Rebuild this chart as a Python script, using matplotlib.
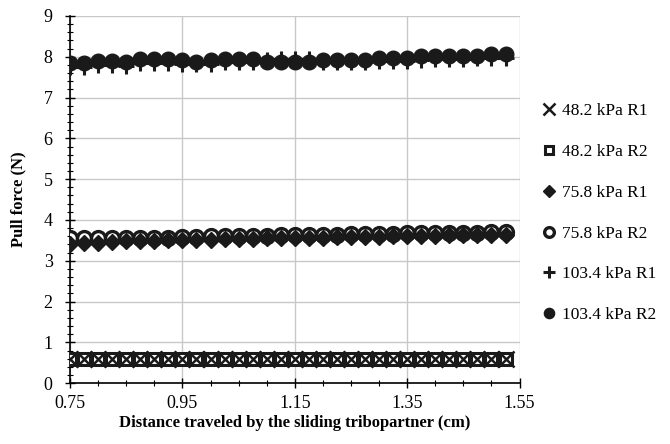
import matplotlib.pyplot as plt
from matplotlib.ticker import MultipleLocator
import numpy as np

# distance travelled (cm), 32 samples
dist = [0.75, 0.775, 0.80, 0.825, 0.85, 0.875, 0.90, 0.925, 0.95, 0.975,
        1.00, 1.025, 1.05, 1.075, 1.10, 1.125, 1.15, 1.175, 1.20, 1.225,
        1.25, 1.275, 1.30, 1.325, 1.35, 1.375, 1.40, 1.425, 1.45, 1.475,
        1.50, 1.525]

p48_r1 = [0.60] * 32
p48_r2 = [0.60] * 32
p75_r1 = [3.42, 3.44, 3.44, 3.47, 3.48, 3.49, 3.49, 3.50, 3.50, 3.50,
          3.52, 3.53, 3.54, 3.54, 3.55, 3.55, 3.56, 3.56, 3.57, 3.58,
          3.58, 3.59, 3.59, 3.60, 3.60, 3.61, 3.61, 3.62, 3.62, 3.62,
          3.63, 3.64]
p75_r2 = [3.57, 3.57, 3.56, 3.56, 3.57, 3.57, 3.57, 3.57, 3.58, 3.58,
          3.60, 3.60, 3.61, 3.61, 3.61, 3.62, 3.63, 3.63, 3.64, 3.64,
          3.65, 3.65, 3.66, 3.66, 3.67, 3.67, 3.68, 3.68, 3.69, 3.69,
          3.70, 3.71]
p103_r1 = [7.76, 7.74, 7.80, 7.80, 7.78, 7.84, 7.84, 7.84, 7.82, 7.82,
           7.82, 7.86, 7.86, 7.86, 7.92, 7.94, 7.94, 7.94, 7.86, 7.86,
           7.86, 7.86, 7.90, 7.90, 7.90, 7.92, 7.94, 7.94, 7.94, 7.96,
           7.97, 7.98]
p103_r2 = [7.84, 7.84, 7.90, 7.90, 7.88, 7.94, 7.94, 7.94, 7.92, 7.88,
           7.92, 7.94, 7.94, 7.94, 7.88, 7.88, 7.88, 7.88, 7.92, 7.92,
           7.92, 7.92, 7.98, 7.98, 7.96, 8.02, 8.02, 8.02, 8.02, 8.02,
           8.06, 8.06]

plt.rcParams['font.family'] = ['Liberation Serif', 'DejaVu Serif']

fig = plt.figure(figsize=(6.7, 4.44), dpi=100)
ax = fig.add_axes([0.1045, 0.137, 0.671, 0.827])

ax.plot(dist, p48_r2, ls='none', marker='s', ms=9, mfc='white', mec='#1a1a1a', mew=2.2, label='48.2 kPa R2', zorder=3)
ax.plot(dist, p48_r1, ls='none', marker='x', ms=12, mec='#1a1a1a', mew=1.8, label='48.2 kPa R1', zorder=4)
ax.plot(dist, p75_r2, ls='none', marker='o', ms=10, mfc='white', mec='#1a1a1a', mew=2.4, label='75.8 kPa R2', zorder=3)
ax.plot(dist, p75_r1, ls='none', marker='D', ms=8.3, color='#1a1a1a', label='75.8 kPa R1', zorder=4)
ax.plot(dist, p103_r1, ls='none', marker='+', ms=12, mec='#1a1a1a', mew=2.2, label='103.4 kPa R1', zorder=3)
ax.plot(dist, p103_r2, ls='none', marker='o', ms=10.5, color='#1a1a1a', label='103.4 kPa R2', zorder=4)

ax.set_xlim(0.75, 1.55)
ax.set_ylim(0, 9)
ax.set_xticks([0.75, 0.95, 1.15, 1.35, 1.55])
ax.set_xticklabels(['0.75', '0.95', '1.15', '1.35', '1.55'])
ax.xaxis.set_minor_locator(MultipleLocator(0.05))
ax.yaxis.set_major_locator(MultipleLocator(1))
ax.yaxis.set_minor_locator(MultipleLocator(0.2))
ax.tick_params(which='major', direction='inout', length=7, width=1, labelsize=13, colors='black')
ax.tick_params(which='minor', direction='inout', length=5, width=0.8)
ax.tick_params(axis='x', pad=5)
ax.tick_params(axis='y', pad=9)

ax.grid(True, which='major', color='#c8c8c8', lw=1)
ax.set_axisbelow(True)
for s in ['top', 'right']:
    ax.spines[s].set_visible(False)
ax.spines['left'].set_linewidth(1.2)
ax.spines['bottom'].set_linewidth(1.2)

ax.set_xlabel('Distance traveled by the sliding tribopartner (cm)', fontsize=12, fontweight='bold', labelpad=2)
ax.set_ylabel('Pull force (N)', fontsize=12, fontweight='bold', labelpad=12)

h, l = ax.get_legend_handles_labels()
order = [1, 0, 3, 2, 4, 5]
ax.legend([h[i] for i in order], [l[i] for i in order], loc='center left', bbox_to_anchor=(1.02, 0.463),
          frameon=False, fontsize=12.5, markerscale=0.7, handlelength=0.6, handletextpad=0.4, labelspacing=1.42)

fig.savefig('out.png', dpi=100)
